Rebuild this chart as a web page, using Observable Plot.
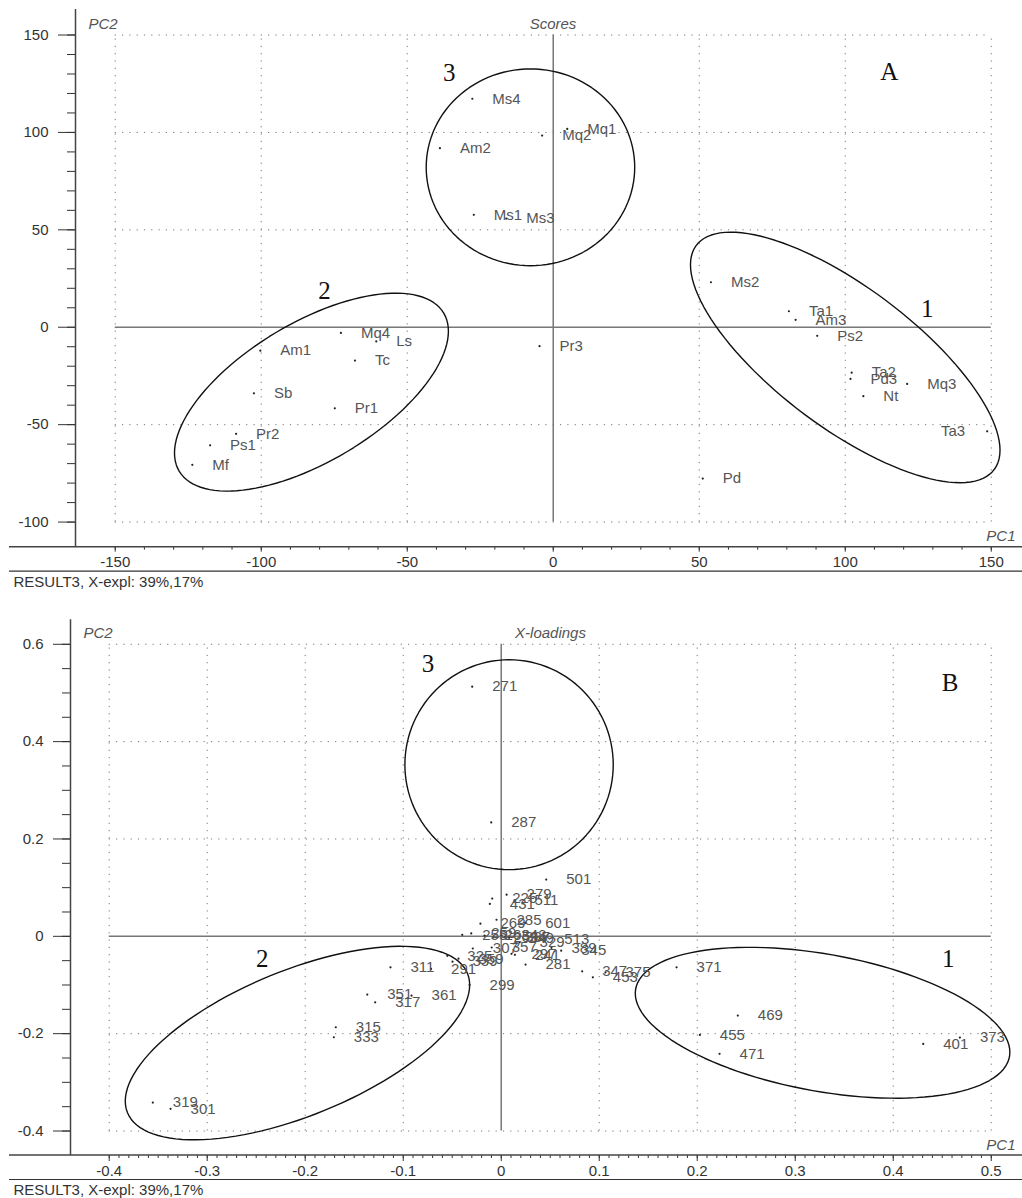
<!DOCTYPE html>
<html><head><meta charset="utf-8">
<script src="https://cdn.jsdelivr.net/npm/d3@7"></script>
<script src="https://cdn.jsdelivr.net/npm/@observablehq/plot@0.6"></script>
<style>
html,body{margin:0;padding:0;background:#fff;}
#chart svg{display:block;}
</style></head><body><div id="chart"></div>
<script>
// ---------- Panel A: Scores ----------
const scoreNames = ["Ms4","Am2","Mq2","Mq1","Ms1","Ms3","Ms2","Ta1","Am3","Ps2","Mq4","Ls","Am1","Tc","Sb","Pr1","Pr2","Ps1","Mf","Pr3","Ta2","Pd3","Mq3","Nt","Ta3","Pd"];
const scorePC1 = [-27.7,-38.8,-3.8,4.8,-27.2,-16.1,54.0,80.7,83.0,90.4,-72.7,-60.6,-100.3,-67.9,-102.5,-74.8,-108.6,-117.5,-123.6,-4.7,102.2,101.8,121.2,106.2,148.6,51.2];
const scorePC2 = [117.3,91.9,98.4,101.8,57.7,55.8,23.1,8.2,3.8,-4.4,-2.9,-7.3,-12.0,-17.1,-33.9,-41.6,-54.7,-60.6,-70.6,-9.7,-23.3,-26.5,-29.1,-35.4,-53.4,-77.7];
const scoreTicksX = [-150,-100,-50,0,50,100,150];
const scoreTicksY = [-100,-50,0,50,100,150];
// groups: [name, centre PC1, centre PC2, half-width, half-height, correlation]
const scoreGroups = [["1",100.0,-15.5,53.0,64.3,-0.74],["2",-82.8,-33.3,46.9,50.8,0.615],["3",-7.8,82.1,35.7,50.5,0]];
const scoreGroupLabelX = [128.1,-78.3,-35.6];
const scoreGroupLabelY = [9.2,18.8,130.7];

// ---------- Panel B: X-loadings ----------
const loadNames = ["271","287","501","279","225","511","431","269","285","601","255","259","263","253","343","337","349","513","389","345","329","297","241","357","307","281","325","339","359","291","299","311","351","317","361","315","333","319","301","347","453","375","371","469","455","471","401","373"];
const loadPC1 = [-0.0296,-0.0102,0.0459,0.0055,-0.0092,0.0135,-0.0116,-0.0212,-0.0048,0.0245,-0.0398,-0.0306,-0.017,-0.008,0.0003,0.004,0.008,0.044,0.0513,0.0612,0.0187,0.0105,0.014,-0.0097,-0.029,0.0248,-0.055,-0.0497,-0.0436,-0.0716,-0.0323,-0.113,-0.1367,-0.1286,-0.0915,-0.1688,-0.1708,-0.3555,-0.3374,0.0826,0.0935,0.1064,0.1789,0.2414,0.2027,0.2228,0.4306,0.468];
const loadPC2 = [0.513,0.234,0.1165,0.0856,0.0775,0.074,0.0665,0.026,0.034,0.0275,0.003,0.006,0.0015,-0.002,0.0015,-0.001,-0.003,-0.005,-0.0236,-0.0294,-0.0127,-0.036,-0.038,-0.023,-0.025,-0.058,-0.04,-0.052,-0.046,-0.067,-0.0998,-0.0636,-0.1197,-0.1355,-0.1219,-0.1868,-0.2074,-0.3415,-0.3545,-0.0719,-0.0842,-0.0739,-0.0637,-0.1628,-0.2025,-0.2415,-0.221,-0.208];
const loadTicksX = [-0.4,-0.3,-0.2,-0.1,0,0.1,0.2,0.3,0.4,0.5];
const loadTicksY = [-0.4,-0.2,0,0.2,0.4,0.6];
const loadGroups = [["1",0.3279,-0.1776,0.1911,0.155,-0.39],["2",-0.2079,-0.2193,0.1757,0.1988,0.6],["3",0.008,0.3526,0.1063,0.2156,0]];
const loadGroupLabelX = [0.4562,-0.2439,-0.0747];
const loadGroupLabelY = [-0.0464,-0.0464,0.5593];

const caption = "RESULT3, X-expl: 39%,17%";
const SANS = "'Liberation Sans', Arial, sans-serif";
const SERIF = "'Liberation Serif', 'Times New Roman', serif";

function ellipse(g) {
  const [name, cx, cy, hw, hh, r] = g, s = Math.sqrt(1 - r * r);
  return d3.range(0, 361, 3).map(a => {
    const t = a * Math.PI / 180;
    return {name, x: cx + hw * Math.cos(t), y: cy + hh * (r * Math.cos(t) + s * Math.sin(t))};
  });
}

function panel(o) {
  const pts = o.names.map((n, i) => ({name: n, x: o.px[i], y: o.py[i]}));
  const gx = o.ticksX.filter(d => d !== 0), gy = o.ticksY.filter(d => d !== 0);
  const x0 = d3.min(o.ticksX), x1 = d3.max(o.ticksX), y0 = d3.min(o.ticksY), y1 = d3.max(o.ticksY);
  const fmt = d => String(d);
  const blank = () => "";
  const groupLabels = o.groups.map((g, i) => ({t: g[0], x: o.glx[i], y: o.gly[i]}));
  const left = pts.filter(d => o.leftLabels.includes(d.name));
  const right = pts.filter(d => !o.leftLabels.includes(d.name));
  const svg = Plot.plot({
    width: 1022, height: o.height,
    marginLeft: o.ml, marginRight: 0, marginTop: o.mt, marginBottom: o.mb,
    x: {domain: o.dx, axis: null},
    y: {domain: o.dy, axis: null},
    style: {fontFamily: SANS, fontSize: "15px", background: "#fff", color: "#333", overflow: "visible"},
    marks: [
      Plot.ruleX(gx, {y1: y0, y2: y1, stroke: "#777", strokeDasharray: "1.2,6.1", strokeWidth: 1}),
      Plot.ruleY(gy, {x1: x0, x2: x1, stroke: "#777", strokeDasharray: "1.2,6.1", strokeWidth: 1}),
      Plot.ruleX([0], {y1: y0, y2: y1, stroke: "#777", strokeWidth: 1.5}),
      Plot.ruleY([0], {x1: x0, x2: x1, stroke: "#777", strokeWidth: 1.5}),
      ...o.groups.map(g => Plot.line(ellipse(g), {x: "x", y: "y", stroke: "#111", strokeWidth: 1.4})),
      Plot.dot(pts, {x: "x", y: "y", r: 1.1, fill: "#222", stroke: null}),
      Plot.text(right, {x: "x", y: "y", text: "name", dx: 20, textAnchor: "start", fill: "#555", fontSize: 15}),
      Plot.text(left, {x: "x", y: "y", text: "name", dx: -22, textAnchor: "end", fill: "#555", fontSize: 15}),
      Plot.text(groupLabels, {x: "x", y: "y", text: "t", fontFamily: SERIF, fontSize: 25, fill: "#111"}),
      Plot.text([o.letter], {x: o.letterX, y: o.letterY, text: d => d, fontFamily: SERIF, fontSize: 25, fill: "#111"}),
      Plot.ruleX([o.dx[0]], {stroke: "#444", strokeWidth: 1.5}),
      Plot.axisX(o.ticksX, {anchor: "bottom", tickSize: o.xTick, tickPadding: 4, tickFormat: fmt, label: null, fontSize: 15, color: "#333"}),
      Plot.axisX(o.minorX, {anchor: "bottom", tickSize: 3, tickFormat: blank, label: null, color: "#333"}),
      Plot.axisY(o.ticksY, {anchor: "left", tickSize: 17, tickPadding: 10, tickFormat: fmt, label: null, fontSize: 15, color: "#333"}),
      Plot.axisY(o.minorY, {anchor: "left", tickSize: 8, tickFormat: blank, label: null, color: "#333"}),
      Plot.text(["PC2"], {frameAnchor: "top-left", text: d => d, dx: 13, dy: o.titleDy, textAnchor: "start", lineAnchor: "middle", fontStyle: "italic", fill: "#555"}),
      Plot.text([o.title], {frameAnchor: "top", text: d => d, dx: 4, dy: o.titleDy, lineAnchor: "middle", fontStyle: "italic", fill: "#555"}),
      Plot.text(["PC1"], {frameAnchor: "bottom-right", text: d => d, dx: -7, dy: o.pc1Dy, textAnchor: "end", lineAnchor: "middle", fontStyle: "italic", fill: "#555"}),
      Plot.text([caption], {frameAnchor: "bottom-left", text: d => d, dx: 13 - o.ml, dy: o.capDy, textAnchor: "start", lineAnchor: "middle", fill: "#333"})
    ]
  });
  const s = d3.select(svg);
  const yb = o.height - o.mb;
  s.append("line").attr("x1", 9).attr("x2", 1022).attr("y1", yb).attr("y2", yb).attr("stroke", "#444").attr("stroke-width", 1.5);
  s.append("line").attr("x1", 9).attr("x2", 1022).attr("y1", yb + 24.5).attr("y2", yb + 24.5).attr("stroke", "#333").attr("stroke-width", 1.2);
  return svg;
}

const chart = document.getElementById("chart");
chart.appendChild(panel({
  names: scoreNames, px: scorePC1, py: scorePC2, ticksX: scoreTicksX, ticksY: scoreTicksY,
  minorX: d3.range(-150, 151, 10), minorY: d3.range(-100, 151, 10),
  groups: scoreGroups, glx: scoreGroupLabelX, gly: scoreGroupLabelY,
  letter: "A", letterX: 115.1, letterY: 130.9, title: "Scores", leftLabels: ["Ta3"],
  height: 600, ml: 75, mt: 9, mb: 53.3, dx: [-163.6, 160.7], dy: [-112.9, 163.1], xTick: 5,
  titleDy: 14.5, pc1Dy: -11, capDy: 34.5
}));
chart.appendChild(panel({
  names: loadNames, px: loadPC1, py: loadPC2, ticksX: loadTicksX, ticksY: loadTicksY,
  minorX: d3.range(-40, 51, 1).map(d => d / 100), minorY: d3.range(-8, 13, 1).map(d => d / 20),
  groups: loadGroups, glx: loadGroupLabelX, gly: loadGroupLabelY,
  letter: "B", letterX: 0.458, letterY: 0.52, title: "X-loadings", leftLabels: [],
  height: 598, ml: 70, mt: 19.3, mb: 43, dx: [-0.4395, 0.5319], dy: [-0.4503, 0.6503], xTick: 6,
  titleDy: 13, pc1Dy: -10, capDy: 35
}));
</script></body></html>
